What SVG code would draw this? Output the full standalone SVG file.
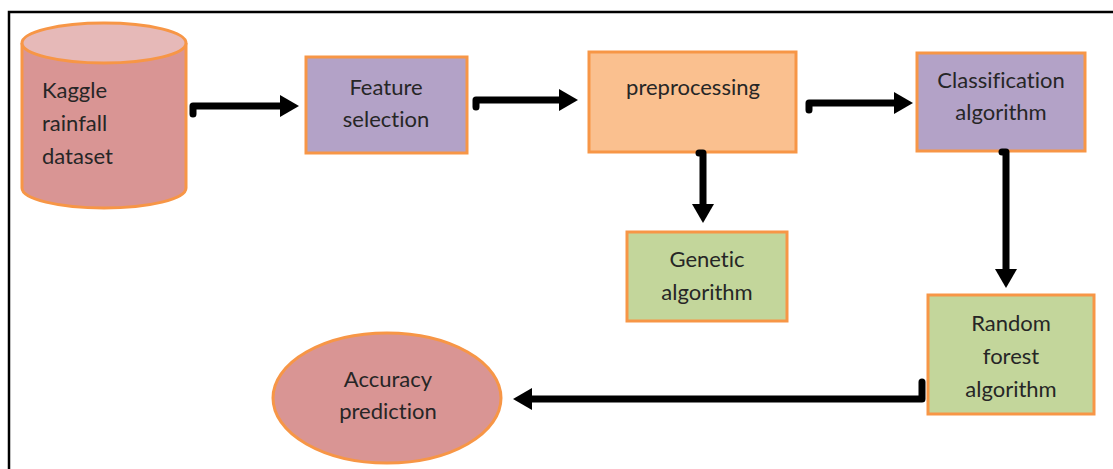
<svg xmlns="http://www.w3.org/2000/svg" width="1113" height="469" viewBox="0 0 1113 469">
  <style>
    .node { stroke: #F79646; stroke-width: 3; }
    .purple { fill: #B3A2C7; }
    .peach { fill: #FAC08F; }
    .green { fill: #C3D69B; }
    .rose { fill: #D99594; }
    .label { font-family: Lato, "Liberation Sans", sans-serif; font-size: 22px; fill: #262626; font-variant-ligatures: none; }
    .mid { text-anchor: middle; }
    .wire { fill: none; stroke: #000; stroke-width: 7; stroke-linecap: round; stroke-linejoin: round; marker-end: url(#head); }
  </style>
  <defs>
    <marker id="head" markerUnits="userSpaceOnUse" markerWidth="20" markerHeight="24" refX="0" refY="12" orient="auto">
      <path d="M0,1 L19,12 L0,23 z" fill="#000"/>
    </marker>
  </defs>

  <rect width="1113" height="469" fill="#fff"/>
  <!-- frame -->
  <path d="M9,469 V12 H1113" fill="none" stroke="#000" stroke-width="2.5"/>

  <g id="kaggle-dataset">
    <path class="node rose" d="M22,43 V188 A82,20 0 0 0 186,188 V43"/>
    <ellipse class="node" cx="104" cy="43" rx="82" ry="20" fill="#E6B9B8"/>
    <text class="label" x="42" y="98">Kaggle</text>
    <text class="label" x="42" y="131">rainfall</text>
    <text class="label" x="42" y="164">dataset</text>
  </g>

  <g id="feature-selection">
    <rect class="node purple" x="306" y="57" width="161" height="96"/>
    <text class="label mid" x="386" y="95">Feature</text>
    <text class="label mid" x="386" y="127">selection</text>
  </g>

  <g id="preprocessing">
    <rect class="node peach" x="589" y="52" width="207" height="100"/>
    <text class="label mid" x="693" y="95">preprocessing</text>
  </g>

  <g id="classification">
    <rect class="node purple" x="917" y="53" width="168" height="98"/>
    <text class="label mid" x="1001" y="88">Classification</text>
    <text class="label mid" x="1001" y="120">algorithm</text>
  </g>

  <g id="genetic">
    <rect class="node green" x="627" y="232" width="160" height="89"/>
    <text class="label mid" x="707" y="267">Genetic</text>
    <text class="label mid" x="707" y="300">algorithm</text>
  </g>

  <g id="random-forest">
    <rect class="node green" x="928" y="295" width="166" height="119"/>
    <text class="label mid" x="1011" y="331">Random</text>
    <text class="label mid" x="1011" y="364">forest</text>
    <text class="label mid" x="1011" y="397">algorithm</text>
  </g>

  <g id="accuracy">
    <ellipse class="node rose" cx="387" cy="398" rx="114" ry="65"/>
    <text class="label mid" x="388" y="387">Accuracy</text>
    <text class="label mid" x="388" y="419">prediction</text>
  </g>

  <g id="connectors">
    <path class="wire" d="M193,114 V106 H280"/>
    <path class="wire" d="M476,107 V100 H559"/>
    <path class="wire" d="M809,110 V103 H894"/>
    <path class="wire" d="M699,153 H703 V204"/>
    <path class="wire" d="M1002,152 H1006 V269"/>
    <path class="wire" d="M922,382 V399 H532"/>
  </g>
</svg>
